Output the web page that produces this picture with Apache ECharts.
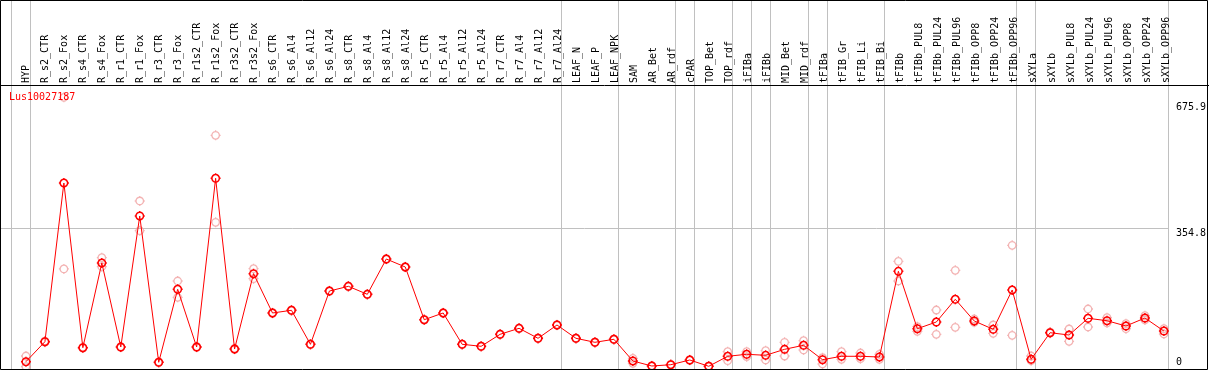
<!DOCTYPE html>
<html>
<head>
<meta charset="utf-8">
<script src="https://cdn.jsdelivr.net/npm/echarts@6/dist/echarts.min.js"></script>
<style>
html,body{margin:0;padding:0;background:#fff;}
#c{width:1209px;height:370px;}
</style>
</head>
<body>
<div id="c"></div>
<script>
// ---- data ----
const geneName = 'Lus10027187';
const categories = ['HYP','R_s2_CTR','R_s2_Fox','R_s4_CTR','R_s4_Fox','R_r1_CTR','R_r1_Fox','R_r3_CTR','R_r3_Fox','R_r1s2_CTR','R_r1s2_Fox','R_r3s2_CTR','R_r3s2_Fox','R_s6_CTR','R_s6_Al4','R_s6_Al12','R_s6_Al24','R_s8_CTR','R_s8_Al4','R_s8_Al12','R_s8_Al24','R_r5_CTR','R_r5_Al4','R_r5_Al12','R_r5_Al24','R_r7_CTR','R_r7_Al4','R_r7_Al12','R_r7_Al24','LEAF_N','LEAF_P','LEAF_NPK','SAM','AR_Bet','AR_rdf','cPAR','TOP_Bet','TOP_rdf','iFIBa','iFIBb','MID_Bet','MID_rdf','tFIBa','tFIB_Gr','tFIB_Li','tFIB_Bi','tFIBb','tFIBb_PUL8','tFIBb_PUL24','tFIBb_PUL96','tFIBb_OPP8','tFIBb_OPP24','tFIBb_OPP96','sXYLa','sXYLb','sXYLb_PUL8','sXYLb_PUL24','sXYLb_PUL96','sXYLb_OPP8','sXYLb_OPP24','sXYLb_OPP96'];
const meanValues = [14.3,65.3,470.4,50.0,266.2,51.8,386.2,12.8,199.1,51.8,482.4,46.7,238.9,138.6,145.5,58.7,194.7,206.7,186.3,276.4,256.0,121.5,138.6,58.7,53.6,84.2,99.5,74.0,108.0,74.0,63.8,71.5,16.1,3.3,6.6,18.6,2.6,28.1,33.2,30.6,45.9,56.2,19.4,28.1,28.1,26.3,245.0,98.5,115.6,173.6,118.2,97.0,197.3,20.4,88.3,82.4,125.1,118.9,105.4,125.8,92.6];
const rep1Values = [28.8,67,689,51,279.7,53,424.5,14,220.3,53,592.1,48,251.7,139.5,146.4,59.6,195.6,207.6,187.2,277.3,256.9,122.4,139.5,59.6,54.5,85.1,100.4,74.9,108.9,74.9,64.7,72.4,23.0,4.2,7.5,19.5,3.5,39.8,39.8,42.4,63.8,67.9,24.5,39.8,36.5,33.2,270.5,103.6,146.2,247.6,123.3,108.0,311.4,28.8,90,97.8,148.8,126.6,111.3,131.7,98.5];
const rep2Values = [1.5,64,251,49,256.8,51,348.6,12,178.7,51,370.1,46,226.1,137.7,144.6,57.8,193.8,205.8,185.4,275.5,255.1,120.6,137.7,57.8,52.7,83.3,98.6,73.1,107.1,73.1,62.9,70.6,10.2,2.4,5.7,17.7,1.7,16.8,27.1,18.6,28.8,44.2,8.4,20.4,21.9,20.4,220.3,91.9,84.2,102.1,114.9,86.8,81.7,16.8,87,66.4,102.9,113.1,98.5,120.7,85.0];
const yTickLabels = [0, 354.8, 675.9];
const gridLineValues = [354.8];
// group separators: drawn after these category indices (-1 = before first)
const separatorAfter = [-1,0,28,31,34,35,37,38,39,41,42,45,52,53,60];

// ---- layout ----
const W = 1209, H = 370;
const X0 = 26, STEP = 19;           // pixel of first category, spacing
const PLOT_RIGHT = 1171;            // right edge of plot
const Y0 = 367.3, YSCALE = 0.3918;  // pixel of value 0, px per unit
const PLOT_BOTTOM = 369;
const XMIN = -X0 / STEP, XMAX = (PLOT_RIGHT - X0) / STEP;
const YMAX = Y0 / YSCALE, YMIN = (Y0 - PLOT_BOTTOM) / YSCALE;
const SEP_OFF = 4.5 / STEP;
const FONT = 'DejaVu Sans Mono';

// ring with four small ticks (cubic-bezier circle, r=7.5 in a 20 box)
const symPath = 'path://M2.5 10C2.5 5.858 5.858 2.5 10 2.5C14.142 2.5 17.5 5.858 17.5 10C17.5 14.142 14.142 17.5 10 17.5C5.858 17.5 2.5 14.142 2.5 10ZM10 0L10 2.5M10 17.5L10 20M0 10L2.5 10M17.5 10L20 10';

const chart = echarts.init(document.getElementById('c'), null, {renderer: 'canvas'});
const fmt = v => (Math.round(v * 10) / 10).toString();

chart.setOption({
  animation: false,
  backgroundColor: '#fff',
  title: {
    text: geneName, left: 9, top: 92, padding: 0,
    textStyle: {color: '#ff0000', fontSize: 10, fontWeight: 'normal', fontFamily: FONT}
  },
  grid: [
    {left: 0, top: 0, right: W - PLOT_RIGHT, bottom: H - PLOT_BOTTOM, containLabel: false},
    {left: X0 - STEP / 2, width: STEP * categories.length, top: 85, bottom: H - PLOT_BOTTOM, containLabel: false}
  ],
  xAxis: [
    {gridIndex: 0, type: 'value', min: XMIN, max: XMAX, show: false},
    {gridIndex: 1, type: 'category', position: 'top', data: categories, boundaryGap: true,
     axisLine: {show: false}, axisTick: {show: false}, splitLine: {show: false},
     axisLabel: {interval: 0, rotate: 90, margin: 2, fontSize: 10, fontFamily: FONT, color: '#000'}}
  ],
  yAxis: [
    {gridIndex: 0, type: 'value', min: YMIN, max: YMAX, position: 'right', offset: 0,
     axisLine: {show: false}, axisTick: {show: false}, splitLine: {show: false},
     axisLabel: {customValues: yTickLabels.filter(v => v !== 0), formatter: fmt, verticalAlign: 'top',
       lineHeight: 10, margin: 7, fontSize: 10, fontFamily: FONT, color: '#000'}},
    {gridIndex: 0, type: 'value', min: YMIN, max: YMAX, position: 'right', offset: 0,
     axisLine: {show: false}, axisTick: {show: false}, splitLine: {show: false},
     axisLabel: {customValues: yTickLabels.filter(v => v === 0), formatter: fmt, verticalAlign: 'bottom',
       lineHeight: 10, margin: 7, fontSize: 10, fontFamily: FONT, color: '#000'}},
    {gridIndex: 1, type: 'value', show: false}
  ],
  series: [
    {
      type: 'line', xAxisIndex: 0, yAxisIndex: 0, data: [], silent: true, z: 1,
      markLine: {
        silent: true, symbol: ['none', 'none'], animation: false, z: 0,
        label: {show: false},
        lineStyle: {color: '#c0c0c0', width: 1, type: 'solid'},
        data: separatorAfter.map(i => ({xAxis: i + SEP_OFF}))
          .concat(gridLineValues.map(v => ({yAxis: v})))
      }
    },
    {
      type: 'scatter', xAxisIndex: 0, yAxisIndex: 0, z: 2,
      data: rep1Values.map((v, i) => [i, v]),
      symbol: symPath, symbolSize: 10,
      itemStyle: {color: 'transparent', borderColor: '#f0a0a0', borderWidth: 1.3}
    },
    {
      type: 'scatter', xAxisIndex: 0, yAxisIndex: 0, z: 2,
      data: rep2Values.map((v, i) => [i, v]),
      symbol: symPath, symbolSize: 10,
      itemStyle: {color: 'transparent', borderColor: '#f0a0a0', borderWidth: 1.3}
    },
    {
      type: 'line', xAxisIndex: 0, yAxisIndex: 0, z: 3,
      data: meanValues.map((v, i) => [i, v]),
      symbol: symPath, symbolSize: 10, showAllSymbol: true,
      lineStyle: {color: '#ff0000', width: 1},
      itemStyle: {color: 'transparent', borderColor: '#ff0000', borderWidth: 1.5}
    }
  ],
  graphic: [
    {type: 'rect', silent: true, z: 100,
     shape: {x: 0.5, y: 0.5, width: W - 2, height: PLOT_BOTTOM},
     style: {fill: null, stroke: '#000', lineWidth: 1}},
    {type: 'line', silent: true, z: 100,
     shape: {x1: 0, y1: 85.5, x2: W, y2: 85.5},
     style: {stroke: '#000', lineWidth: 1}}
  ]
});
</script>
</body>
</html>
